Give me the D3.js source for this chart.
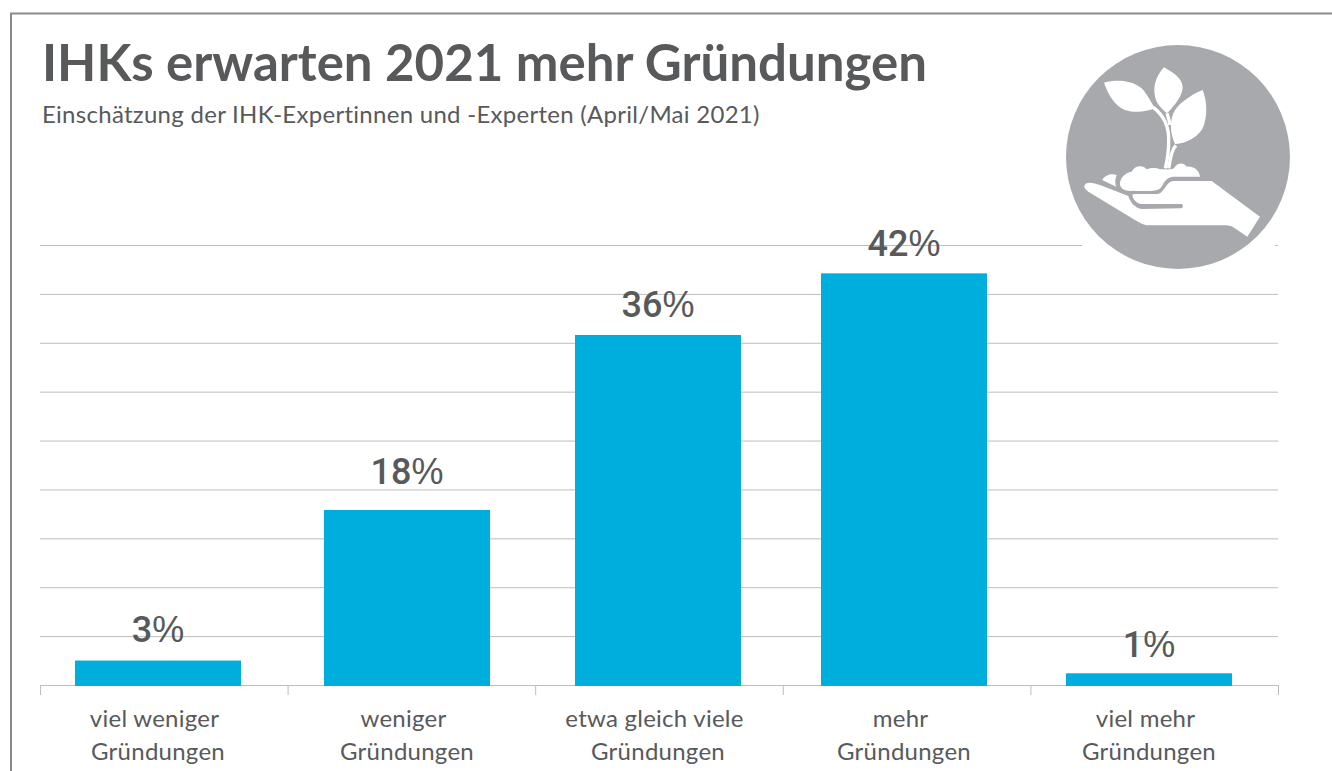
<!DOCTYPE html>
<html>
<head>
<meta charset="utf-8">
<script src="https://cdn.jsdelivr.net/npm/d3@7"></script>
<style>
  html, body { margin: 0; padding: 0; background: #fff; overflow: hidden; }
  text { font-family: "Lato", sans-serif; fill: #58595b; }
</style>
</head>
<body>
<svg id="chart"></svg>
<script>
const categories = [
  ["viel weniger", "Gründungen"],
  ["weniger", "Gründungen"],
  ["etwa gleich viele", "Gründungen"],
  ["mehr", "Gründungen"],
  ["viel mehr", "Gründungen"]
];
// bar heights carry the unrounded shares, the labels show them rounded
const barValues = [2.5, 17.9, 35.8, 42.1, 1.2];
const labelValues = [3, 18, 36, 42, 1];
const gridValues = [5, 10, 15, 20, 25, 30, 35, 40, 45];
const titleText = "IHKs erwarten 2021 mehr Gründungen";
const subtitleText = "Einschätzung der IHK-Expertinnen und -Experten (April/Mai 2021)";

const w = 1332;
const h = 771;
const gridColor = "#bdbdbd";
const barColor = "#00aede";
const barWidth = 166;

const svg = d3.select("#chart").attr("width", w).attr("height", h);

// frame, runs off the right and bottom of the picture
svg.append("path")
   .attr("d", "M11," + h + "V13.5H" + w)
   .attr("fill", "none")
   .attr("stroke", "#8a8a8a")
   .attr("stroke-width", 2);

svg.append("text")
   .attr("x", 42).attr("y", 81)
   .attr("font-size", 51).attr("font-weight", 700)
   .text(titleText);

svg.append("text")
   .attr("x", 42).attr("y", 123)
   .attr("font-size", 24)
   .attr("letter-spacing", 0.28)
   .text(subtitleText);

const yScale = d3.scaleLinear().domain([0, 45]).range([685, 245]);

// bars are not evenly spaced in the original
const xScale = d3.scaleOrdinal()
                 .domain(d3.range(categories.length))
                 .range([75, 324, 575, 821, 1066]);
const labelY = d3.scaleOrdinal()
                 .domain(d3.range(categories.length))
                 .range([642, 484, 317, 256, 657]);

// tick boundaries between the categories
const tickScale = d3.scaleLinear().domain([0, categories.length]).range([40, 1278]);

const yAxis = d3.axisLeft(yScale)
                .tickValues(gridValues)
                .tickSize(-1238)
                .tickFormat("");

const gridG = svg.append("g")
   .attr("transform", "translate(40,0)")
   .call(yAxis);
gridG.select(".domain").remove();
gridG.selectAll("line").attr("stroke", gridColor).attr("stroke-width", 1);

// icon: white patch hides the top gridline behind it
svg.append("rect")
   .attr("x", 1082).attr("y", 235)
   .attr("width", 193).attr("height", 20)
   .attr("fill", "#fff");

const icon = svg.append("g").attr("transform", "translate(1040,70) scale(0.3333)");
icon.append("circle").attr("cx", 414).attr("cy", 261).attr("r", 336).attr("fill", "#a7a9ac");
const iconShapes = [
  "M192,38C230,28 280,30 310,60C325,78 335,100 345,115C320,125 285,130 255,120C225,108 205,75 192,38Z",
  "M372,-8C345,20 335,60 350,95C358,110 372,122 381,130C395,115 425,85 428,55C430,25 395,5 372,-8Z",
  "M488,60C450,75 410,105 400,130C388,160 392,195 405,222C440,220 480,200 492,165C503,130 500,90 488,60Z",
  "M240,345C238,325 255,308 275,305C285,285 310,285 320,298C335,292 350,293 360,298C375,298 395,300 402,295C410,278 430,275 440,290C460,288 478,300 480,320L400,320C385,322 375,330 368,345C360,362 350,365 280,362C262,365 245,360 240,345Z",
  "M187,330C195,315 215,310 230,315C225,325 225,340 228,350Z",
  "M140,340C150,335 165,340 180,345L265,378C270,395 285,415 305,417L425,415C430,412 430,403 425,402L305,402C290,402 275,385 278,373C290,370 350,375 360,370C375,360 380,335 400,333L515,333L660,440L622,500L580,472C570,466 560,466 540,466L325,466C310,466 300,458 285,450L145,365C130,355 130,345 140,340Z"
];
icon.selectAll("path.shape")
    .data(iconShapes)
    .enter()
    .append("path")
    .attr("class", "shape")
    .attr("d", d => d)
    .attr("fill", "#fff");
icon.selectAll("path.stem")
    .data(["M340,112C370,135 388,170 386,215C386,245 382,270 376,295", "M408,226C395,240 392,262 386,295", "M381,130C384,140 388,150 390,165"])
    .enter()
    .append("path")
    .attr("class", "stem")
    .attr("d", d => d)
    .attr("fill", "none")
    .attr("stroke", "#fff")
    .attr("stroke-width", 10);

// x axis line and ticks
const xAxis = d3.axisBottom(tickScale)
                .tickValues(d3.range(categories.length + 1))
                .tickSize(10)
                .tickFormat("");
const xG = svg.append("g")
   .attr("transform", "translate(0," + yScale(0) + ")")
   .call(xAxis);
xG.selectAll("line").attr("stroke", gridColor);
xG.select(".domain").attr("stroke", gridColor).attr("d", "M40.5,0.5H1278.5");

// bars, they cover the axis line
svg.selectAll("rect.bar")
   .data(barValues)
   .enter()
   .append("rect")
   .attr("class", "bar")
   .attr("x", (d, i) => xScale(i))
   .attr("y", d => yScale(d))
   .attr("width", barWidth)
   .attr("height", d => yScale(0) - yScale(d) + 1)
   .attr("fill", barColor);

// value labels
const valueLabels = svg.selectAll("text.value")
   .data(labelValues)
   .enter()
   .append("text")
   .attr("class", "value")
   .attr("x", (d, i) => xScale(i) + barWidth / 2)
   .attr("y", (d, i) => labelY(i))
   .attr("text-anchor", "middle")
   .attr("font-size", 36);
valueLabels.append("tspan")
   .style("font-family", "Roboto")
   .attr("font-weight", 500)
   .text(d => d);
valueLabels.append("tspan")
   .style("font-family", "Liberation Sans")
   .text("%");

// category labels, two lines each
const catLabels = svg.selectAll("text.cat")
   .data(categories)
   .enter()
   .append("text")
   .attr("class", "cat")
   .attr("text-anchor", "middle")
   .attr("font-size", 24)
   .attr("letter-spacing", 0.25);
catLabels.selectAll("tspan")
   .data((d, i) => d.map(t => ({t: t, i: i})))
   .enter()
   .append("tspan")
   .attr("x", (d, j) => xScale(d.i) + barWidth / 2 - (j == 0 ? 3.5 : 0))
   .attr("y", (d, j) => 727 + j * 33)
   .text(d => d.t);
</script>
</body>
</html>
